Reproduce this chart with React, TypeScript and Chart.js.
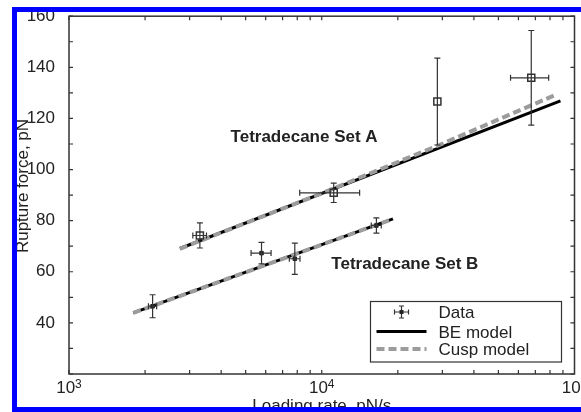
import React, { useEffect, useRef } from 'react';
import { Chart, registerables } from 'chart.js';

Chart.register(...registerables);

// Tetradecane set A: loading rate (pN/s), rupture force (pN) and their errors
const setARate = [3295, 11150, 28670, 67440];
const setAForce = [74.2, 90.9, 126.6, 135.9];
const setARateErr = [205, 2970, 0, 11600];
const setAForceErr = [4.9, 3.8, 17.0, 18.5];

// Tetradecane set B
const setBRate = [2142, 5777, 7823, 16450];
const setBForce = [46.5, 67.3, 65.1, 78.1];
const setBRateErr = [80, 525, 380, 750];
const setBForceErr = [4.5, 4.2, 6.1, 3.0];

// Model curves (Bell-Evans and cusp) for each set
const beARate = [2746, 88000];
const beAForce = [69.1, 126.9];
const cuspARate = [2746, 10000, 30000, 84000];
const cuspAForce = [69.0, 90.7, 110.1, 129.2];
const beBRate = [1796, 19130];
const beBForce = [43.9, 80.7];
const cuspBRate = [1796, 19130];
const cuspBForce = [43.9, 80.7];

// Axes
const rateMin = 1000;
const rateMax = 100000;
const forceMin = 20;
const forceMax = 160;
const forceStep = 10;
const forceTickLabels = [40, 60, 80, 100, 120, 140, 160];
const rateTickValues = [1000, 10000, 100000];
const rateTickExponents = ['3', '4', '5'];
const rateMinorMultipliers = [1, 2, 3, 4, 5, 6, 7, 8, 9];

// Text
const legendLabels = ['Data', 'BE model', 'Cusp model'];
const setLabels = ['Tetradecane Set A', 'Tetradecane Set B'];
const setLabelRates = [4357, 10910];
const setLabelForces = [110.7, 61.1];
const xTitle = 'Loading rate, pN/s';
const yTitle = 'Rupture force, pN';

const FONT = '"Liberation Sans", Arial, Helvetica, sans-serif';
const INK = '#222';
const AXIS = '#333';
const CUSP_GRAY = '#9c9c9c';
const BLUE = '#0000ff';

const pairs = (xs: number[], ys: number[]) => xs.map((x, i) => ({ x, y: ys[i] }));

function drawErrorBars(ctx: CanvasRenderingContext2D, xs: any, ys: any,
  rate: number[], force: number[], rateErr: number[], forceErr: number[]) {
  ctx.save();
  ctx.strokeStyle = AXIS;
  ctx.lineWidth = 1.2;
  const cap = 3;
  for (let i = 0; i < rate.length; i++) {
    const px = xs.getPixelForValue(rate[i]);
    const py = ys.getPixelForValue(force[i]);
    const top = ys.getPixelForValue(force[i] + forceErr[i]);
    const bot = ys.getPixelForValue(force[i] - forceErr[i]);
    ctx.beginPath();
    ctx.moveTo(px, top); ctx.lineTo(px, bot);
    ctx.moveTo(px - cap, top); ctx.lineTo(px + cap, top);
    ctx.moveTo(px - cap, bot); ctx.lineTo(px + cap, bot);
    if (rateErr[i] > 0) {
      const l = xs.getPixelForValue(rate[i] - rateErr[i]);
      const r = xs.getPixelForValue(rate[i] + rateErr[i]);
      ctx.moveTo(l, py); ctx.lineTo(r, py);
      ctx.moveTo(l, py - cap); ctx.lineTo(l, py + cap);
      ctx.moveTo(r, py - cap); ctx.lineTo(r, py + cap);
    }
    ctx.stroke();
  }
  ctx.restore();
}

const figurePlugin = {
  id: 'figure',
  beforeDraw(chart: any) {
    const { ctx, width, height } = chart;
    ctx.save();
    ctx.fillStyle = '#fff';
    ctx.fillRect(0, 0, width, height);
    ctx.restore();
  },
  afterDatasetsDraw(chart: any) {
    const { ctx } = chart;
    const xs = chart.scales.x;
    const ys = chart.scales.y;
    drawErrorBars(ctx, xs, ys, setARate, setAForce, setARateErr, setAForceErr);
    drawErrorBars(ctx, xs, ys, setBRate, setBForce, setBRateErr, setBForceErr);
  },
  afterDraw(chart: any) {
    const { ctx, chartArea: a, width, height } = chart;
    const xs = chart.scales.x;
    const ys = chart.scales.y;
    ctx.save();

    // plot box
    ctx.strokeStyle = AXIS;
    ctx.lineWidth = 1.5;
    ctx.strokeRect(a.left, a.top, a.right - a.left, a.bottom - a.top);

    // inward tick marks on all four sides
    const tick = 4;
    ctx.lineWidth = 1.2;
    ctx.beginPath();
    for (let v = forceMin; v <= forceMax; v += forceStep) {
      const py = ys.getPixelForValue(v);
      ctx.moveTo(a.left, py); ctx.lineTo(a.left + tick, py);
      ctx.moveTo(a.right, py); ctx.lineTo(a.right - tick, py);
    }
    for (let d = rateMin; d < rateMax; d *= 10) {
      for (const m of rateMinorMultipliers) {
        const px = xs.getPixelForValue(m * d);
        ctx.moveTo(px, a.bottom); ctx.lineTo(px, a.bottom - tick);
        ctx.moveTo(px, a.top); ctx.lineTo(px, a.top + tick);
      }
    }
    ctx.stroke();

    // x tick labels as powers of ten
    ctx.fillStyle = INK;
    ctx.textBaseline = 'alphabetic';
    ctx.textAlign = 'left';
    rateTickValues.forEach((v, i) => {
      const px = xs.getPixelForValue(v);
      ctx.font = `17px ${FONT}`;
      const wb = ctx.measureText('10').width;
      ctx.font = `12px ${FONT}`;
      const we = ctx.measureText(rateTickExponents[i]).width;
      const x0 = px - (wb + we) / 2;
      ctx.font = `17px ${FONT}`;
      ctx.fillText('10', x0, 393);
      ctx.font = `12px ${FONT}`;
      ctx.fillText(rateTickExponents[i], x0 + wb, 388);
    });

    // axis titles
    ctx.font = `17px ${FONT}`;
    ctx.textAlign = 'center';
    ctx.fillText(xTitle, (a.left + a.right) / 2, 411);
    ctx.save();
    ctx.translate(28, 186);
    ctx.rotate(-Math.PI / 2);
    ctx.fillText(yTitle, 0, 0);
    ctx.restore();

    // set annotations
    ctx.font = `bold 17px ${FONT}`;
    ctx.textAlign = 'left';
    setLabels.forEach((t, i) => {
      ctx.fillText(t, xs.getPixelForValue(setLabelRates[i]), ys.getPixelForValue(setLabelForces[i]));
    });

    // legend
    const lx = a.right - 204;
    const ly = a.bottom - 72.5;
    ctx.fillStyle = '#fff';
    ctx.fillRect(lx, ly, 191, 60.5);
    ctx.strokeStyle = AXIS;
    ctx.lineWidth = 1.2;
    ctx.strokeRect(lx, ly, 191, 60.5);
    const rows = [ly + 10.5, ly + 30, ly + 47.5];
    const s0 = lx + 6;
    const s1 = lx + 56;
    // data symbol
    const cx = (s0 + s1) / 2;
    ctx.beginPath();
    ctx.moveTo(cx - 7, rows[0]); ctx.lineTo(cx + 7, rows[0]);
    ctx.moveTo(cx - 7, rows[0] - 2.5); ctx.lineTo(cx - 7, rows[0] + 2.5);
    ctx.moveTo(cx + 7, rows[0] - 2.5); ctx.lineTo(cx + 7, rows[0] + 2.5);
    ctx.moveTo(cx, rows[0] - 6); ctx.lineTo(cx, rows[0] + 6);
    ctx.moveTo(cx - 2.5, rows[0] - 6); ctx.lineTo(cx + 2.5, rows[0] - 6);
    ctx.moveTo(cx - 2.5, rows[0] + 6); ctx.lineTo(cx + 2.5, rows[0] + 6);
    ctx.stroke();
    ctx.fillStyle = INK;
    ctx.fillRect(cx - 2, rows[0] - 2, 4, 4);
    // BE model sample
    ctx.strokeStyle = '#000';
    ctx.lineWidth = 3;
    ctx.beginPath();
    ctx.moveTo(s0, rows[1]); ctx.lineTo(s1, rows[1]);
    ctx.stroke();
    // cusp model sample
    ctx.strokeStyle = CUSP_GRAY;
    ctx.lineWidth = 4;
    ctx.setLineDash([8, 4]);
    ctx.beginPath();
    ctx.moveTo(s0, rows[2]); ctx.lineTo(s1, rows[2]);
    ctx.stroke();
    ctx.setLineDash([]);
    ctx.fillStyle = INK;
    ctx.font = `17px ${FONT}`;
    ctx.textAlign = 'left';
    legendLabels.forEach((t, i) => ctx.fillText(t, lx + 68, rows[i] + 6));

    // blue figure frame
    ctx.fillStyle = BLUE;
    ctx.fillRect(12, 7, width - 12, 5);
    ctx.fillRect(12, 7, 5, height - 7);
    ctx.fillRect(12, height - 5, width - 12, 5);
    ctx.restore();
  },
};

export default function App() {
  const canvasRef = useRef<HTMLCanvasElement | null>(null);

  useEffect(() => {
    const canvas = canvasRef.current;
    if (!canvas) return;
    const chart = new Chart(canvas, {
      type: 'scatter',
      data: {
        datasets: [
          {
            label: 'Set A',
            data: pairs(setARate, setAForce),
            pointStyle: 'rect',
            pointRadius: 5,
            pointBorderWidth: 1.5,
            pointBorderColor: AXIS,
            pointBackgroundColor: 'rgba(0,0,0,0)',
            showLine: false,
            order: 0,
          },
          {
            label: 'Set B',
            data: pairs(setBRate, setBForce),
            pointStyle: 'rect',
            pointRadius: 2.5,
            pointBorderWidth: 1,
            pointBorderColor: INK,
            pointBackgroundColor: INK,
            showLine: false,
            order: 0,
          },
          {
            label: 'Cusp model A',
            data: pairs(cuspARate, cuspAForce),
            showLine: true,
            pointRadius: 0,
            borderColor: CUSP_GRAY,
            borderWidth: 4,
            borderDash: [8, 4],
            tension: 0,
            order: 1,
          },
          {
            label: 'Cusp model B',
            data: pairs(cuspBRate, cuspBForce),
            showLine: true,
            pointRadius: 0,
            borderColor: CUSP_GRAY,
            borderWidth: 4,
            borderDash: [8, 4],
            tension: 0,
            order: 1,
          },
          {
            label: 'BE model A',
            data: pairs(beARate, beAForce),
            showLine: true,
            pointRadius: 0,
            borderColor: '#000',
            borderWidth: 3,
            order: 2,
          },
          {
            label: 'BE model B',
            data: pairs(beBRate, beBForce),
            showLine: true,
            pointRadius: 0,
            borderColor: '#000',
            borderWidth: 3,
            order: 2,
          },
        ],
      },
      options: {
        responsive: false,
        maintainAspectRatio: false,
        animation: false,
        devicePixelRatio: 1,
        layout: { padding: { top: 15, right: 6, left: 0, bottom: 0 } },
        plugins: { legend: { display: false }, tooltip: { enabled: false } },
        events: [],
        scales: {
          x: {
            type: 'logarithmic',
            min: rateMin,
            max: rateMax,
            grid: { display: false },
            border: { display: false },
            ticks: { display: false },
            afterFit: (s: any) => { s.height = 38; },
          },
          y: {
            type: 'linear',
            min: forceMin,
            max: forceMax,
            grid: { display: false },
            border: { display: false },
            ticks: {
              stepSize: forceStep,
              autoSkip: false,
              padding: 6,
              color: INK,
              font: { family: FONT, size: 17 },
              callback: (v: any) => (forceTickLabels.includes(Number(v)) ? String(v) : ''),
            },
            afterFit: (s: any) => { s.width = 69; },
          },
        },
      },
      plugins: [figurePlugin],
    } as any);
    return () => chart.destroy();
  }, []);

  return (
    <div style={{ position: 'fixed', left: 0, top: 0, width: 581, height: 412, background: '#fff' }}>
      <canvas ref={canvasRef} width={581} height={412} style={{ display: 'block', width: 581, height: 412 }} />
    </div>
  );
}
